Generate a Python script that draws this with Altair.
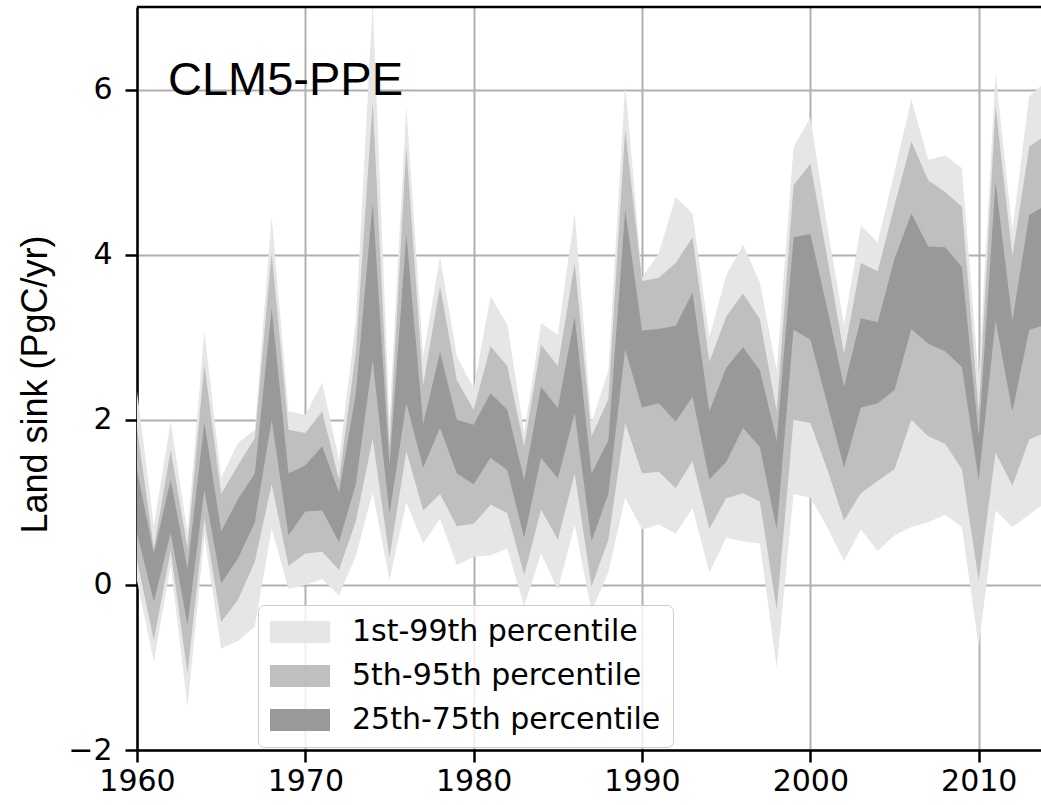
import altair as alt
import pandas as pd

years = list(range(1960, 2015))
p1 = [0.05, -0.93, 0.24, -1.48, 0.59, -0.77, -0.68, -0.50, 0.68, -0.05,
      0.00, 0.07, -0.13, 0.35, 1.12, 0.06, 1.00, 0.50, 0.80, 0.24,
      0.34, 0.36, 0.44, -0.26, 0.38, -0.06, 0.73, -0.32, 0.15, 1.06,
      0.67, 0.73, 0.62, 0.93, 0.15, 0.57, 0.53, 0.50, -1.00, 1.10,
      1.06, 0.70, 0.29, 0.67, 0.41, 0.60, 0.70, 0.76, 0.85, 0.70,
      -0.75, 0.90, 0.70, 0.85, 1.00]
p5 = [0.30, -0.67, 0.42, -1.07, 0.80, -0.45, -0.18, 0.28, 1.22, 0.23,
      0.38, 0.40, 0.18, 0.77, 1.77, 0.33, 1.62, 0.90, 1.10, 0.71,
      0.74, 0.97, 0.87, 0.12, 0.91, 0.55, 1.35, -0.02, 0.55, 1.96,
      1.35, 1.37, 1.17, 1.50, 0.68, 1.05, 1.11, 1.01, -0.30, 2.00,
      1.96, 1.40, 0.78, 1.11, 1.26, 1.40, 2.00, 1.80, 1.71, 1.40,
      0.05, 1.60, 1.20, 1.76, 1.85]
p25 = [0.63, -0.20, 0.63, -0.48, 1.15, 0.02, 0.32, 0.76, 2.00, 0.60,
       0.89, 0.90, 0.52, 1.22, 2.72, 0.86, 2.20, 1.42, 1.90, 1.35,
       1.22, 1.54, 1.39, 0.57, 1.54, 1.29, 2.08, 0.53, 1.10, 2.85,
       2.15, 2.20, 1.98, 2.28, 1.28, 1.49, 1.90, 1.67, 0.67, 3.09,
       2.97, 2.20, 1.42, 2.15, 2.20, 2.36, 3.10, 2.92, 2.83, 2.64,
       1.27, 3.20, 2.10, 3.09, 3.15]
p75 = [1.39, 0.38, 1.27, 0.20, 1.97, 0.65, 1.04, 1.35, 3.35, 1.35,
       1.45, 1.68, 1.12, 2.32, 4.63, 1.45, 4.25, 1.95, 2.82, 2.00,
       1.94, 2.32, 2.12, 1.27, 2.40, 2.14, 3.25, 1.35, 1.75, 4.54,
       3.08, 3.10, 3.14, 3.54, 2.10, 2.63, 2.88, 2.60, 1.75, 4.21,
       4.25, 3.35, 2.40, 3.23, 3.18, 3.95, 4.50, 4.10, 4.09, 3.85,
       1.80, 4.88, 3.20, 4.48, 4.60]
p95 = [1.90, 0.44, 1.63, 0.45, 2.67, 1.10, 1.45, 1.78, 4.02, 1.88,
       1.84, 2.10, 1.27, 2.82, 5.85, 1.68, 5.30, 2.42, 3.62, 2.48,
       2.12, 2.89, 2.65, 1.68, 2.91, 2.65, 3.90, 1.80, 2.25, 5.52,
       3.68, 3.72, 3.90, 4.21, 2.70, 3.25, 3.53, 3.22, 2.10, 4.84,
       5.10, 3.97, 2.80, 3.90, 3.80, 4.60, 5.37, 4.90, 4.76, 4.58,
       2.10, 5.80, 3.98, 5.31, 5.45]
p99 = [2.35, 0.72, 1.98, 0.63, 3.08, 1.30, 1.72, 1.88, 4.46, 2.10,
       2.06, 2.45, 1.52, 3.20, 7.05, 2.00, 5.80, 2.77, 3.97, 2.77,
       2.38, 3.50, 3.15, 1.84, 3.17, 3.03, 4.50, 1.96, 2.60, 6.07,
       3.72, 4.02, 4.70, 4.50, 3.00, 3.75, 4.12, 3.66, 2.60, 5.30,
       5.66, 4.35, 3.15, 4.35, 4.15, 5.00, 5.88, 5.15, 5.20, 5.05,
       2.50, 6.20, 4.30, 5.92, 6.10]

bands = ["1st-99th percentile", "5th-95th percentile", "25th-75th percentile"]
band_colors = ["#e6e6e6", "#bfbfbf", "#999999"]
x_ticks = [1960, 1970, 1980, 1990, 2000, 2010]
y_ticks = [-2, 0, 2, 4, 6]
panel_label = ["CLM5-PPE"]
y_title = "Land sink (PgC/yr)"

lows = [p1, p5, p25]
highs = [p99, p95, p75]
rows = []
for b, lo, hi in zip(bands, lows, highs):
    for yr, l, h in zip(years, lo, hi):
        rows.append({"year": yr, "band": b, "lo": l, "hi": h})
df = pd.DataFrame(rows)

W, H = 904, 743

xenc = alt.X("year:Q",
             scale=alt.Scale(domain=[1960, 2013.7], nice=False, zero=False),
             axis=alt.Axis(values=x_ticks, format="d", title=None, labelFlush=False,
                           labelOverlap=False, labelPadding=4))
yenc = alt.Y("lo:Q",
             scale=alt.Scale(domain=[-2, 7], nice=False, zero=False),
             axis=alt.Axis(values=y_ticks, title=y_title, labelFlush=False,
                           labelOverlap=False, labelPadding=13,
                           titleFont="Liberation Sans", titleFontSize=36,
                           titleFontWeight="normal", titleColor="black",
                           titleX=-102, titleY=377, titleAlign="center",
                           titleBaseline="middle", titleAngle=270))
color = alt.Color("band:N",
                  scale=alt.Scale(domain=bands, range=band_colors),
                  legend=alt.Legend(title=None, orient="none", legendX=121, legendY=598,
                                    symbolType="M-2,-0.74H2V0.74H-2Z", symbolSize=900,
                                    symbolStrokeWidth=0, symbolOpacity=1,
                                    symbolOffset=15,
                                    labelFont="DejaVu Sans", labelFontSize=30,
                                    labelColor="black", labelOffset=37, labelLimit=0,
                                    fillColor="rgba(255,255,255,0.8)",
                                    strokeColor="#cccccc", padding=12,
                                    cornerRadius=6, rowPadding=14, zindex=2))

layers = []
for b in bands:
    layers.append(
        alt.Chart(df).transform_filter(alt.datum.band == b)
        .mark_area(clip=True, opacity=1, interpolate="linear")
        .encode(x=xenc, y=yenc, y2="hi:Q", color=color)
    )

frame = pd.DataFrame({"a": [0]})
top_border = alt.Chart(frame).mark_rule(color="black", strokeWidth=2.5).encode(
    x=alt.value(0), x2=alt.value(W), y=alt.value(0))

label_df = pd.DataFrame({"t": panel_label})
label = alt.Chart(label_df).mark_text(
    align="left", baseline="alphabetic", font="Liberation Sans", fontSize=47,
    color="black").encode(x=alt.value(31), y=alt.value(88), text="t:N")

chart = alt.layer(*layers, top_border, label).properties(
    width=W, height=H,
    padding={"left": 137, "top": 7, "right": 0, "bottom": 55},
    autosize=alt.AutoSizeParams(type="none"),
    background="white",
).configure_view(stroke=None).configure_axis(
    domainColor="black", domainWidth=2.5, tickColor="black", tickWidth=2.5,
    tickSize=12, labelFont="DejaVu Sans", labelFontSize=30, labelColor="black",
    gridColor="#b0b0b0", gridWidth=2, zindex=1,
)

chart.save("out.html", embed_options={"renderer": "svg", "actions": False})
